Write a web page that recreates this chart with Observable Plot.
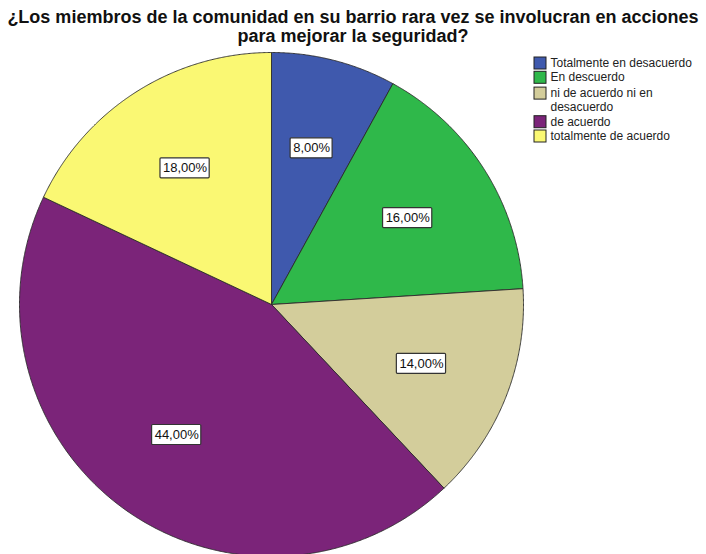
<!DOCTYPE html>
<html><head><meta charset="utf-8">
<script src="https://cdn.jsdelivr.net/npm/d3@7"></script>
<script src="https://cdn.jsdelivr.net/npm/@observablehq/plot@0.6"></script>
<style>
body{margin:0;background:#fff;overflow:hidden;font-family:"Liberation Sans",Arial,sans-serif}
#title{height:48px;text-align:center;font-weight:bold;font-size:18px;line-height:19px;padding-top:8px;box-sizing:border-box;color:#111;white-space:nowrap}
</style></head>
<body>
<div id="title"></div>
<div id="chart"></div>
<script>
const titleLines = ["¿Los miembros de la comunidad en su barrio rara vez se involucran en acciones", "para mejorar la seguridad?"];
const categories = ["Totalmente en desacuerdo", "En descuerdo", "ni de acuerdo ni en desacuerdo", "de acuerdo", "totalmente de acuerdo"];
const legendLabels = ["Totalmente en desacuerdo", "En descuerdo", "ni de acuerdo ni en\ndesacuerdo", "de acuerdo", "totalmente de acuerdo"];
const percentages = [8, 16, 14, 44, 18];
const colors = ["#3F59AD", "#2FB84A", "#D3CD9B", "#7B2479", "#FAF873"];

document.getElementById("title").innerHTML = titleLines.join("<br>");

const W = 706, H = 554, top0 = 48;
const cx = 271, cy = 304, R = 252, labelR = 0.64 * R;
const pie = d3.pie().sort(null).value(d => d)(percentages);

const slices = pie.map((p, i) => {
  const pts = [{x: cx, y: cy}];
  const n = Math.max(2, Math.ceil((p.endAngle - p.startAngle) / 0.005));
  for (let k = 0; k <= n; k++) {
    const a = p.startAngle + (p.endAngle - p.startAngle) * k / n;
    pts.push({x: cx + R * Math.sin(a), y: cy - R * Math.cos(a)});
  }
  pts.push({x: cx, y: cy});
  return {pts, color: colors[i]};
});

const labels = pie.map((p, i) => {
  const a = (p.startAngle + p.endAngle) / 2;
  const text = percentages[i].toFixed(2).replace(".", ",") + "%";
  const x = cx + labelR * Math.sin(a), y = cy - labelR * Math.cos(a);
  const w = text.length * 7.2 + 6;
  return {x, y, text, x1: x - w / 2, x2: x + w / 2, y1: y - 10, y2: y + 10};
});

let ly = 63;
const legend = legendLabels.map((t, i) => {
  const n = t.split("\n").length;
  const row = {text: t, y: ly + (n > 1 ? 1.5 : 0), color: colors[i]};
  ly += 14.3 * n + (n > 1 ? 1.5 : 0);
  return row;
});

const marks = [];
for (const s of slices) {
  marks.push(Plot.line(s.pts, {x: "x", y: "y", fill: s.color, stroke: "#2b2b2b", strokeWidth: 0.9, curve: "linear"}));
}
marks.push(
  Plot.rect(labels, {x1: "x1", x2: "x2", y1: "y1", y2: "y2", fill: "white", stroke: "#333", strokeWidth: 1.2, rx: 1}),
  Plot.text(labels, {x: "x", y: "y", text: "text", fontSize: 13, fill: "#111"}),
  Plot.rect(legend, {x1: 534, x2: 546, y1: d => d.y - 6, y2: d => d.y + 6, fill: "color", stroke: "#222", strokeWidth: 1}),
  Plot.text(legend, {x: 550, y: d => d.y - 6.5, text: "text", textAnchor: "start", lineAnchor: "top", lineHeight: 1.15, fontSize: 12, fill: "#222"})
);

const plot = Plot.plot({
  width: W, height: H - top0,
  margin: 0,
  x: {domain: [0, W], range: [0, W], axis: null},
  y: {domain: [top0, H], range: [0, H - top0], axis: null},
  color: {type: "identity"},
  style: {fontFamily: "'Liberation Sans', Arial, sans-serif", background: "white"},
  marks
});
document.getElementById("chart").appendChild(plot);
</script>
</body></html>
